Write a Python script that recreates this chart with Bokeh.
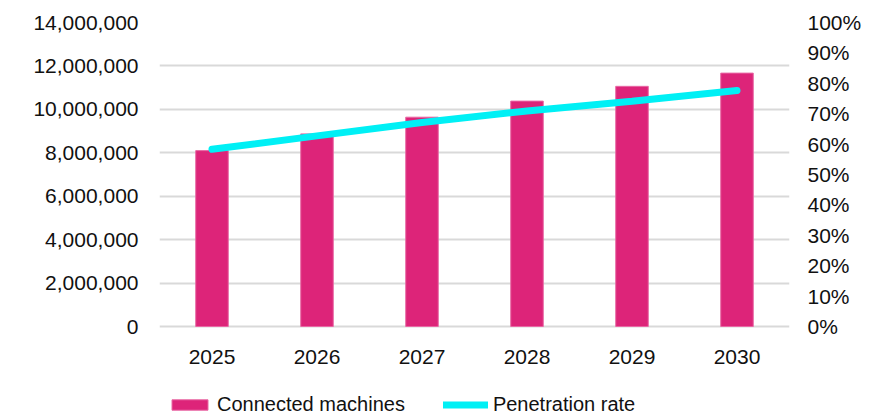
from bokeh.plotting import figure
from bokeh.models import (ColumnDataSource, Range1d, LinearAxis, FactorRange,
                          NumeralTickFormatter, FixedTicker, Legend, LegendItem)
from bokeh.embed import file_html
from bokeh.resources import INLINE

years = ["2025", "2026", "2027", "2028", "2029", "2030"]
machines = [8100000, 8870000, 9640000, 10380000, 11060000, 11670000]
penetration = [0.583, 0.627, 0.671, 0.709, 0.741, 0.776]
left_ticks = [0, 2000000, 4000000, 6000000, 8000000, 10000000, 12000000, 14000000]
right_ticks = [0.0, 0.1, 0.2, 0.3, 0.4, 0.5, 0.6, 0.7, 0.8, 0.9, 1.0]

FONT = "Liberation Sans"
FS = "21px"
TXT = "#111111"

# frame spans the full lower area; the space below zero holds the year labels and legend
LEFT_MAX = 14000000
RIGHT_MAX = 1.0
BELOW_FRAC = 89 / 304

src = ColumnDataSource(dict(year=years, machines=machines, pen=penetration))

p = figure(width=886, height=415, x_range=FactorRange(*years, range_padding=0),
           y_range=Range1d(-LEFT_MAX * BELOW_FRAC, LEFT_MAX),
           output_backend="svg", toolbar_location=None,
           min_border_left=159, min_border_right=97, min_border_top=22, min_border_bottom=0)
p.outline_line_color = None
p.background_fill_color = "white"
p.border_fill_color = "white"
p.extra_y_ranges = {"pct": Range1d(-RIGHT_MAX * BELOW_FRAC, RIGHT_MAX)}

bars = p.vbar(x="year", top="machines", bottom=0, width=0.31, source=src,
              fill_color="#DD2479", line_color="#E868A4", line_width=1)
line = p.line(x="year", y="pen", source=src, y_range_name="pct",
              line_color="#00F0F5", line_width=7, line_cap="round")

p.xgrid.grid_line_color = None
p.ygrid.grid_line_color = "#D9D9D9"
p.ygrid.grid_line_width = 2
p.ygrid.ticker = FixedTicker(ticks=left_ticks)

ax = p.yaxis[0]
ax.ticker = FixedTicker(ticks=left_ticks)
ax.formatter = NumeralTickFormatter(format="0,0")
ax.axis_line_color = None
ax.major_tick_line_color = None
ax.minor_tick_line_color = None
ax.major_label_standoff = 15
ax.major_label_text_font = FONT
ax.major_label_text_font_size = FS
ax.major_label_text_color = TXT

rax = LinearAxis(y_range_name="pct", ticker=FixedTicker(ticks=right_ticks),
                 formatter=NumeralTickFormatter(format="0%"))
rax.axis_line_color = None
rax.major_tick_line_color = None
rax.minor_tick_line_color = None
rax.major_label_standoff = 12
rax.major_label_text_font = FONT
rax.major_label_text_font_size = FS
rax.major_label_text_color = TXT
p.add_layout(rax, "right")

xax = p.xaxis[0]
xax.fixed_location = 0
xax.axis_line_color = None
xax.major_tick_line_color = None
xax.minor_tick_line_color = None
xax.major_label_standoff = 17
xax.major_label_text_font = FONT
xax.major_label_text_font_size = FS
xax.major_label_text_color = TXT

legend = Legend(items=[LegendItem(label="Connected machines", renderers=[bars]),
                       LegendItem(label="Penetration rate", renderers=[line])],
                orientation="horizontal", location=(8, -1),
                glyph_width=45, glyph_height=13, label_standoff=5, spacing=38,
                padding=0, margin=0, border_line_color=None, background_fill_alpha=0,
                label_text_font=FONT, label_text_font_size="20px", label_text_color=TXT)
p.add_layout(legend, "center")

open("out.html", "w").write(file_html(p, INLINE))
